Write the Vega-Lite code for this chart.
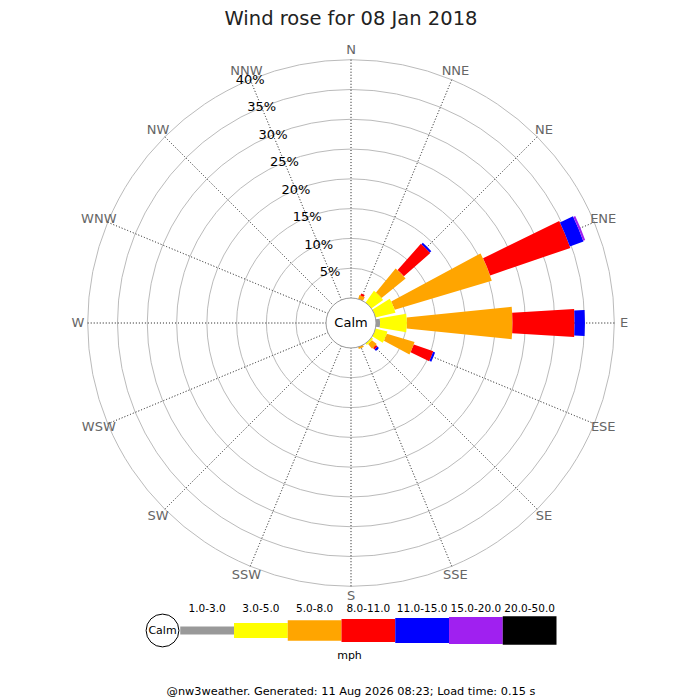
{
  "$schema": "https://vega.github.io/schema/vega-lite/v6.json",
  "background": "white",
  "padding": {"left": 1, "top": 9, "right": 0, "bottom": 0},
  "title": {
    "text": "Wind rose for 08 Jan 2018",
    "anchor": "middle",
    "fontSize": 19.5,
    "fontWeight": "normal",
    "color": "#222222",
    "offset": 13.5
  },
  "datasets": {
    "rings": [
      {"pct": 5, "label": "5%"}, {"pct": 10, "label": "10%"}, {"pct": 15, "label": "15%"},
      {"pct": 20, "label": "20%"}, {"pct": 25, "label": "25%"}, {"pct": 30, "label": "30%"},
      {"pct": 35, "label": "35%"}, {"pct": 40, "label": "40%"}
    ],
    "dirs": [
      {"dir": "N", "deg": 0}, {"dir": "NNE", "deg": 22.5}, {"dir": "NE", "deg": 45}, {"dir": "ENE", "deg": 67.5},
      {"dir": "E", "deg": 90}, {"dir": "ESE", "deg": 112.5}, {"dir": "SE", "deg": 135}, {"dir": "SSE", "deg": 157.5},
      {"dir": "S", "deg": 180}, {"dir": "SSW", "deg": 202.5}, {"dir": "SW", "deg": 225}, {"dir": "WSW", "deg": 247.5},
      {"dir": "W", "deg": 270}, {"dir": "WNW", "deg": 292.5}, {"dir": "NW", "deg": 315}, {"dir": "NNW", "deg": 337.5}
    ],
    "rose": [
      {"dir": "NNE", "deg": 22.5, "bin": "5.0-8.0", "mph": 5, "pct": 0.69},
      {"dir": "NNE", "deg": 22.5, "bin": "8.0-11.0", "mph": 8, "pct": 0.35},
      {"dir": "NE", "deg": 45, "bin": "3.0-5.0", "mph": 3, "pct": 2.43},
      {"dir": "NE", "deg": 45, "bin": "5.0-8.0", "mph": 5, "pct": 5.21},
      {"dir": "NE", "deg": 45, "bin": "8.0-11.0", "mph": 8, "pct": 5.9},
      {"dir": "NE", "deg": 45, "bin": "11.0-15.0", "mph": 11, "pct": 0.35},
      {"dir": "ENE", "deg": 67.5, "bin": "3.0-5.0", "mph": 3, "pct": 3.47},
      {"dir": "ENE", "deg": 67.5, "bin": "5.0-8.0", "mph": 5, "pct": 17.01},
      {"dir": "ENE", "deg": 67.5, "bin": "8.0-11.0", "mph": 8, "pct": 14.24},
      {"dir": "ENE", "deg": 67.5, "bin": "11.0-15.0", "mph": 11, "pct": 2.43},
      {"dir": "ENE", "deg": 67.5, "bin": "15.0-20.0", "mph": 15, "pct": 0.35},
      {"dir": "E", "deg": 90, "bin": "1.0-3.0", "mph": 1, "pct": 0.69},
      {"dir": "E", "deg": 90, "bin": "3.0-5.0", "mph": 3, "pct": 4.51},
      {"dir": "E", "deg": 90, "bin": "5.0-8.0", "mph": 5, "pct": 17.71},
      {"dir": "E", "deg": 90, "bin": "8.0-11.0", "mph": 8, "pct": 10.42},
      {"dir": "E", "deg": 90, "bin": "11.0-15.0", "mph": 11, "pct": 1.74},
      {"dir": "ESE", "deg": 112.5, "bin": "3.0-5.0", "mph": 3, "pct": 2.08},
      {"dir": "ESE", "deg": 112.5, "bin": "5.0-8.0", "mph": 5, "pct": 4.86},
      {"dir": "ESE", "deg": 112.5, "bin": "8.0-11.0", "mph": 8, "pct": 3.47},
      {"dir": "ESE", "deg": 112.5, "bin": "11.0-15.0", "mph": 11, "pct": 0.35},
      {"dir": "SE", "deg": 135, "bin": "3.0-5.0", "mph": 3, "pct": 0.35},
      {"dir": "SE", "deg": 135, "bin": "5.0-8.0", "mph": 5, "pct": 1.04},
      {"dir": "SE", "deg": 135, "bin": "8.0-11.0", "mph": 8, "pct": 0.35},
      {"dir": "SE", "deg": 135, "bin": "11.0-15.0", "mph": 11, "pct": 0.35},
      {"dir": "SSE", "deg": 157.5, "bin": "5.0-8.0", "mph": 5, "pct": 0.35}
    ],
    "legend": [
      {"item": "Calm"},
      {"item": "1.0-3.0", "mph": 1}, {"item": "3.0-5.0", "mph": 3}, {"item": "5.0-8.0", "mph": 5},
      {"item": "8.0-11.0", "mph": 8}, {"item": "11.0-15.0", "mph": 11}, {"item": "15.0-20.0", "mph": 15},
      {"item": "20.0-50.0", "mph": 20}
    ]
  },
  "bounds": "flush",
  "spacing": 10,
  "vconcat": [
    {
      "width": 700,
      "height": 560,
      "layer": [
        {
          "data": {"name": "rings"},
          "mark": {"type": "arc", "theta": 0, "theta2": 6.2832, "radius2": 0, "filled": false, "stroke": "#bbbbbb", "strokeWidth": 1},
          "encoding": {
            "radius": {"field": "pct", "type": "quantitative", "stack": null, "scale": {"type": "linear", "domain": [0, 40], "range": [25, 263.3]}}
          }
        },
        {
          "data": {"name": "dirs"},
          "mark": {"type": "arc", "filled": false, "stroke": "#555555", "strokeWidth": 0.8, "strokeDash": [1, 2.0101]},
          "encoding": {
            "theta": {"field": "deg", "type": "quantitative", "stack": null, "scale": {"domain": [0, 360], "range": [0, 6.283185]}},
            "theta2": {"field": "deg"},
            "radius": {"datum": 40, "type": "quantitative", "scale": {"type": "linear", "domain": [0, 40], "range": [25, 263.3]}},
            "radius2": {"datum": 0}
          }
        },
        {
          "data": {"name": "rose"},
          "transform": [
            {"stack": "pct", "groupby": ["dir"], "sort": [{"field": "mph", "order": "ascending"}], "as": ["lo", "hi"]},
            {"filter": "datum.bin === '1.0-3.0'"}
          ],
          "mark": {"type": "arc", "color": "#999999", "thetaOffset": -0.1484, "theta2Offset": 0.1484},
          "encoding": {
            "theta": {"field": "deg", "type": "quantitative", "stack": null, "scale": {"domain": [0, 360], "range": [0, 6.283185]}},
            "theta2": {"field": "deg"},
            "radius": {"field": "hi", "type": "quantitative", "stack": null, "scale": {"type": "linear", "domain": [0, 40], "range": [25, 263.3]}},
            "radius2": {"field": "lo"}
          }
        },
        {
          "data": {"name": "rose"},
          "transform": [
            {"stack": "pct", "groupby": ["dir"], "sort": [{"field": "mph", "order": "ascending"}], "as": ["lo", "hi"]},
            {"filter": "datum.bin === '3.0-5.0'"}
          ],
          "mark": {"type": "arc", "color": "#ffff00", "thetaOffset": -0.1658, "theta2Offset": 0.1658},
          "encoding": {
            "theta": {"field": "deg", "type": "quantitative", "stack": null, "scale": {"domain": [0, 360], "range": [0, 6.283185]}},
            "theta2": {"field": "deg"},
            "radius": {"field": "hi", "type": "quantitative", "stack": null, "scale": {"type": "linear", "domain": [0, 40], "range": [25, 263.3]}},
            "radius2": {"field": "lo"}
          }
        },
        {
          "data": {"name": "rose"},
          "transform": [
            {"stack": "pct", "groupby": ["dir"], "sort": [{"field": "mph", "order": "ascending"}], "as": ["lo", "hi"]},
            {"filter": "datum.bin === '5.0-8.0'"}
          ],
          "mark": {"type": "arc", "color": "#ffa500", "thetaOffset": -0.1004, "theta2Offset": 0.1004},
          "encoding": {
            "theta": {"field": "deg", "type": "quantitative", "stack": null, "scale": {"domain": [0, 360], "range": [0, 6.283185]}},
            "theta2": {"field": "deg"},
            "radius": {"field": "hi", "type": "quantitative", "stack": null, "scale": {"type": "linear", "domain": [0, 40], "range": [25, 263.3]}},
            "radius2": {"field": "lo"}
          }
        },
        {
          "data": {"name": "rose"},
          "transform": [
            {"stack": "pct", "groupby": ["dir"], "sort": [{"field": "mph", "order": "ascending"}], "as": ["lo", "hi"]},
            {"filter": "datum.bin === '8.0-11.0'"}
          ],
          "mark": {"type": "arc", "color": "#ff0000", "thetaOffset": -0.0628, "theta2Offset": 0.0628},
          "encoding": {
            "theta": {"field": "deg", "type": "quantitative", "stack": null, "scale": {"domain": [0, 360], "range": [0, 6.283185]}},
            "theta2": {"field": "deg"},
            "radius": {"field": "hi", "type": "quantitative", "stack": null, "scale": {"type": "linear", "domain": [0, 40], "range": [25, 263.3]}},
            "radius2": {"field": "lo"}
          }
        },
        {
          "data": {"name": "rose"},
          "transform": [
            {"stack": "pct", "groupby": ["dir"], "sort": [{"field": "mph", "order": "ascending"}], "as": ["lo", "hi"]},
            {"filter": "datum.bin === '11.0-15.0'"}
          ],
          "mark": {"type": "arc", "color": "#0000ff", "thetaOffset": -0.0559, "theta2Offset": 0.0559},
          "encoding": {
            "theta": {"field": "deg", "type": "quantitative", "stack": null, "scale": {"domain": [0, 360], "range": [0, 6.283185]}},
            "theta2": {"field": "deg"},
            "radius": {"field": "hi", "type": "quantitative", "stack": null, "scale": {"type": "linear", "domain": [0, 40], "range": [25, 263.3]}},
            "radius2": {"field": "lo"}
          }
        },
        {
          "data": {"name": "rose"},
          "transform": [
            {"stack": "pct", "groupby": ["dir"], "sort": [{"field": "mph", "order": "ascending"}], "as": ["lo", "hi"]},
            {"filter": "datum.bin === '15.0-20.0'"}
          ],
          "mark": {"type": "arc", "color": "#a020f0", "thetaOffset": -0.0524, "theta2Offset": 0.0524},
          "encoding": {
            "theta": {"field": "deg", "type": "quantitative", "stack": null, "scale": {"domain": [0, 360], "range": [0, 6.283185]}},
            "theta2": {"field": "deg"},
            "radius": {"field": "hi", "type": "quantitative", "stack": null, "scale": {"type": "linear", "domain": [0, 40], "range": [25, 263.3]}},
            "radius2": {"field": "lo"}
          }
        },
        {
          "data": {"values": [{"label": "Calm"}]},
          "mark": {"type": "arc", "theta": 0, "theta2": 6.2832, "radius2": 0, "fill": "white", "stroke": "#999999", "strokeWidth": 1},
          "encoding": {
            "radius": {"datum": 0, "type": "quantitative", "scale": {"type": "linear", "domain": [0, 40], "range": [25, 263.3]}}
          }
        },
        {
          "data": {"values": [{"label": "Calm"}]},
          "mark": {"type": "text", "fontSize": 13, "color": "#000000", "align": "center", "baseline": "middle"},
          "encoding": {"text": {"field": "label"}}
        },
        {
          "data": {"name": "dirs"},
          "mark": {"type": "text", "fontSize": 13, "color": "#666666", "align": "center", "baseline": "middle"},
          "encoding": {
            "theta": {"field": "deg", "type": "quantitative", "scale": {"domain": [0, 360], "range": [0, 6.283185]}},
            "radius": {"datum": 41.63, "type": "quantitative", "scale": {"type": "linear", "domain": [0, 40], "range": [25, 263.3]}},
            "text": {"field": "dir"}
          }
        },
        {
          "data": {"name": "rings"},
          "mark": {"type": "text", "fontSize": 13, "color": "#000000", "align": "center", "baseline": "middle"},
          "encoding": {
            "theta": {"datum": 337.5, "type": "quantitative", "scale": {"domain": [0, 360], "range": [0, 6.283185]}},
            "radius": {"field": "pct", "type": "quantitative", "scale": {"type": "linear", "domain": [0, 40], "range": [25, 263.3]}},
            "text": {"field": "label"}
          }
        }
      ]
    },
    {
      "width": 700,
      "height": 35,
      "data": {"name": "legend"},
      "title": {
        "text": "@nw3weather. Generated: 11 Aug 2026 08:23; Load time: 0.15 s",
        "orient": "bottom",
        "anchor": "middle",
        "fontSize": 11.3,
        "fontWeight": "normal",
        "color": "#000000",
        "offset": 26
      },
      "encoding": {
        "x": {
          "field": "item",
          "type": "nominal",
          "scale": {
            "domain": ["Calm", "1.0-3.0", "3.0-5.0", "5.0-8.0", "8.0-11.0", "11.0-15.0", "15.0-20.0", "20.0-50.0"],
            "range": [125.5, 555.5],
            "paddingInner": 0,
            "paddingOuter": 0
          },
          "axis": {
            "title": "mph",
            "labels": false,
            "ticks": false,
            "domain": false,
            "grid": false,
            "titleFontWeight": "normal",
            "titleFontSize": 11,
            "titleColor": "#000000",
            "titlePadding": 1,
            "titleX": 348,
            "titleAlign": "center"
          }
        }
      },
      "layer": [
        {
          "transform": [{"filter": "datum.item !== 'Calm'"}],
          "mark": {"type": "rule", "strokeCap": "butt"},
          "encoding": {
            "x": {"field": "item", "type": "nominal", "bandPosition": 0},
            "x2": {"field": "item", "bandPosition": 1},
            "color": {
              "field": "item",
              "type": "nominal",
              "scale": {
                "domain": ["1.0-3.0", "3.0-5.0", "5.0-8.0", "8.0-11.0", "11.0-15.0", "15.0-20.0", "20.0-50.0"],
                "range": ["#999999", "#ffff00", "#ffa500", "#ff0000", "#0000ff", "#a020f0", "#000000"]
              },
              "legend": null
            },
            "strokeWidth": {
              "field": "mph",
              "type": "quantitative",
              "scale": {
                "type": "linear",
                "domain": [1, 3, 5, 8, 11, 15, 20],
                "range": [8, 15, 20.6, 23, 25, 27, 28.3]
              },
              "legend": null
            }
          }
        },
        {
          "transform": [{"filter": "datum.item === 'Calm'"}],
          "mark": {"type": "point", "shape": "circle", "filled": true, "fill": "white", "stroke": "#000000", "strokeWidth": 1, "size": 1075, "opacity": 1},
          "encoding": {
            "x": {"field": "item", "type": "nominal", "bandPosition": 0.67}
          }
        },
        {
          "transform": [{"filter": "datum.item === 'Calm'"}],
          "mark": {"type": "text", "fontSize": 11, "color": "#000000"},
          "encoding": {
            "x": {"field": "item", "type": "nominal", "bandPosition": 0.67},
            "text": {"field": "item"}
          }
        },
        {
          "transform": [{"filter": "datum.item !== 'Calm'"}],
          "mark": {"type": "text", "fontSize": 10.5, "color": "#000000", "dy": -22},
          "encoding": {"text": {"field": "item"}}
        }
      ]
    }
  ],
  "config": {
    "font": "DejaVu Sans",
    "view": {"stroke": null}
  }
}
